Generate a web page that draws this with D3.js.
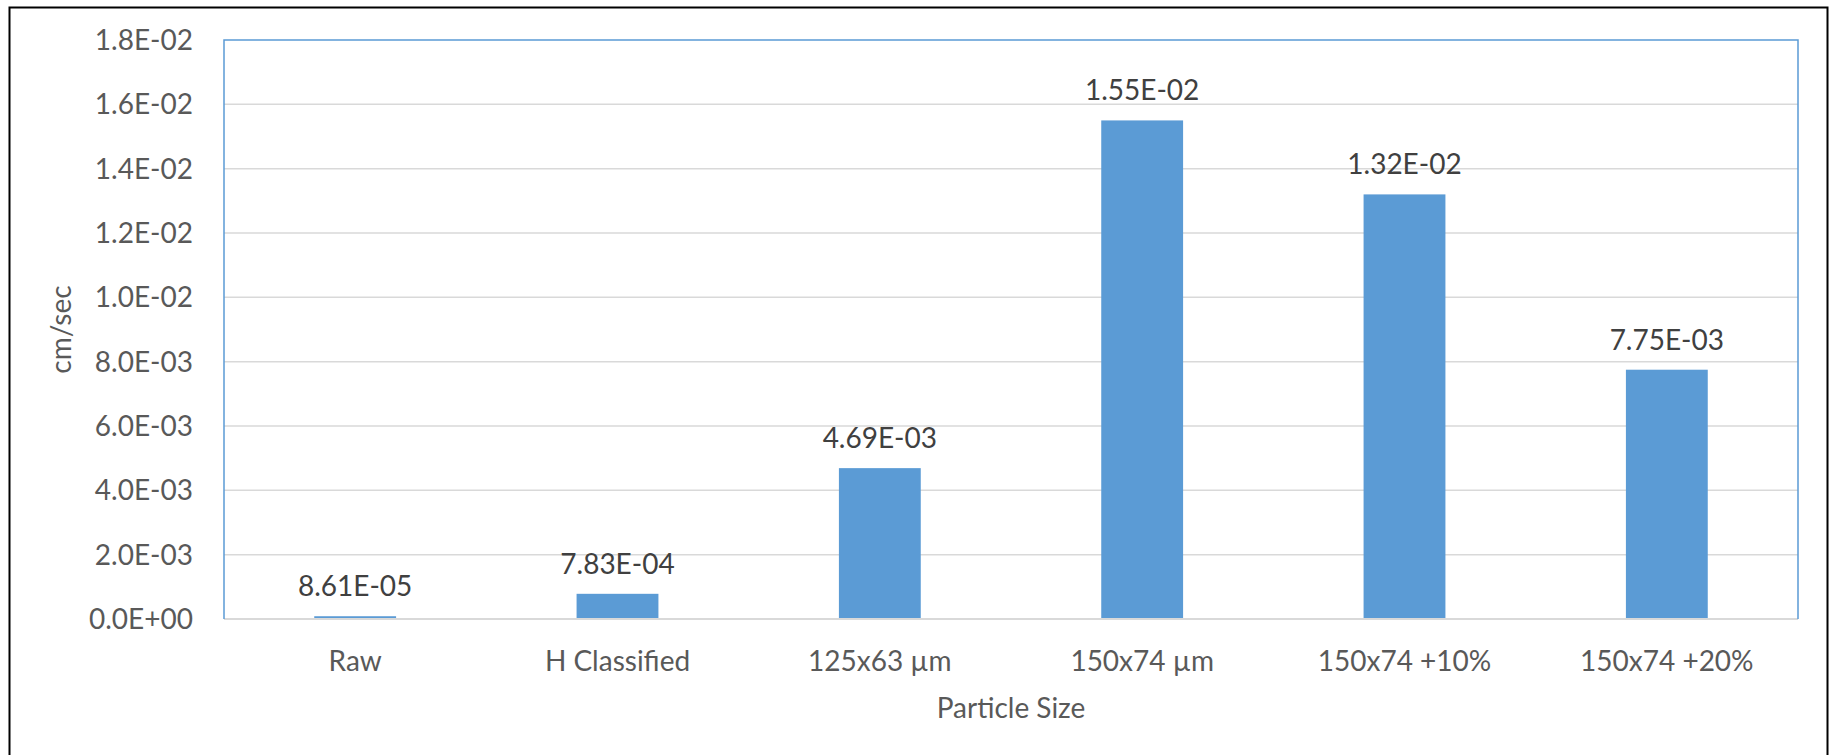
<!DOCTYPE html>
<html>
<head>
<meta charset="utf-8">
<script src="https://cdn.jsdelivr.net/npm/d3@7"></script>
<style>
  html, body { margin: 0; padding: 0; background: #fff; }
  svg { display: block; }
  text { font-family: Lato, "Open Sans", sans-serif; }
</style>
</head>
<body>
<svg id="chart" width="1835" height="755"></svg>
<script>
// Hydraulic conductivity by particle size
const categories = ["Raw", "H Classified", "125x63 µm", "150x74 µm", "150x74 +10%", "150x74 +20%"];
const values = [8.61e-5, 7.83e-4, 4.69e-3, 1.55e-2, 1.32e-2, 7.75e-3];
const valueLabels = ["8.61E-05", "7.83E-04", "4.69E-03", "1.55E-02", "1.32E-02", "7.75E-03"];
const yTicks = [0, 0.002, 0.004, 0.006, 0.008, 0.010, 0.012, 0.014, 0.016, 0.018];
const yTickLabels = ["0.0E+00", "2.0E-03", "4.0E-03", "6.0E-03", "8.0E-03", "1.0E-02", "1.2E-02", "1.4E-02", "1.6E-02", "1.8E-02"];
const xTitle = "Particle Size";
const yTitle = "cm/sec";

const svg = d3.select("#chart");
const plot = { left: 224, top: 40, right: 1798, bottom: 619 };

const x = d3.scaleBand()
  .domain(categories)
  .range([plot.left, plot.right])
  .paddingInner(0.688)
  .paddingOuter(0.344);

const y = d3.scaleLinear()
  .domain([0, 0.018])
  .range([plot.bottom, plot.top]);

// outer chart border
svg.append("rect")
  .attr("x", 9.5).attr("y", 7.5)
  .attr("width", 1818).attr("height", 800)
  .attr("fill", "none")
  .attr("stroke", "#000")
  .attr("stroke-width", 2);

// horizontal gridlines
svg.append("g")
  .selectAll("line")
  .data(yTicks.filter(d => d > 0 && d < 0.018))
  .join("line")
  .attr("x1", plot.left).attr("x2", plot.right)
  .attr("y1", d => y(d)).attr("y2", d => y(d))
  .attr("stroke", "#D9D9D9")
  .attr("stroke-width", 1.5);

// bars
svg.append("g")
  .selectAll("rect")
  .data(values)
  .join("rect")
  .attr("x", (d, i) => x(categories[i]))
  .attr("width", x.bandwidth())
  .attr("y", d => y(d))
  .attr("height", d => y(0) - y(d))
  .attr("fill", "#5B9BD5");

// category axis line
svg.append("line")
  .attr("x1", plot.left).attr("x2", plot.right)
  .attr("y1", plot.bottom).attr("y2", plot.bottom)
  .attr("stroke", "#D9D9D9")
  .attr("stroke-width", 2);

// plot-area frame (left, top, right)
svg.append("path")
  .attr("d", `M${plot.left},${plot.bottom} V${plot.top} H${plot.right} V${plot.bottom}`)
  .attr("fill", "none")
  .attr("stroke", "#5B9BD5")
  .attr("stroke-width", 1.5);

// y tick labels
svg.append("g")
  .selectAll("text")
  .data(yTicks)
  .join("text")
  .attr("x", 193)
  .attr("y", d => y(d) + 10)
  .attr("text-anchor", "end")
  .attr("font-size", 28)
  .attr("fill", "#595959")
  .text((d, i) => yTickLabels[i]);

// x category labels
svg.append("g")
  .selectAll("text")
  .data(categories)
  .join("text")
  .attr("x", d => x(d) + x.bandwidth() / 2)
  .attr("y", 671)
  .attr("text-anchor", "middle")
  .attr("font-size", 28)
  .attr("fill", "#595959")
  .text(d => d);

// value labels above bars
svg.append("g")
  .selectAll("text")
  .data(values)
  .join("text")
  .attr("x", (d, i) => x(categories[i]) + x.bandwidth() / 2)
  .attr("y", d => y(d) - 20)
  .attr("text-anchor", "middle")
  .attr("font-size", 28)
  .attr("fill", "#404040")
  .text((d, i) => valueLabels[i]);

// axis titles
svg.append("text")
  .attr("x", (plot.left + plot.right) / 2)
  .attr("y", 718)
  .attr("text-anchor", "middle")
  .attr("font-size", 28)
  .attr("fill", "#595959")
  .text(xTitle);

svg.append("text")
  .attr("transform", `translate(71,${(plot.top + plot.bottom) / 2}) rotate(-90)`)
  .attr("text-anchor", "middle")
  .attr("font-size", 28)
  .attr("fill", "#595959")
  .text(yTitle);
</script>
</body>
</html>
